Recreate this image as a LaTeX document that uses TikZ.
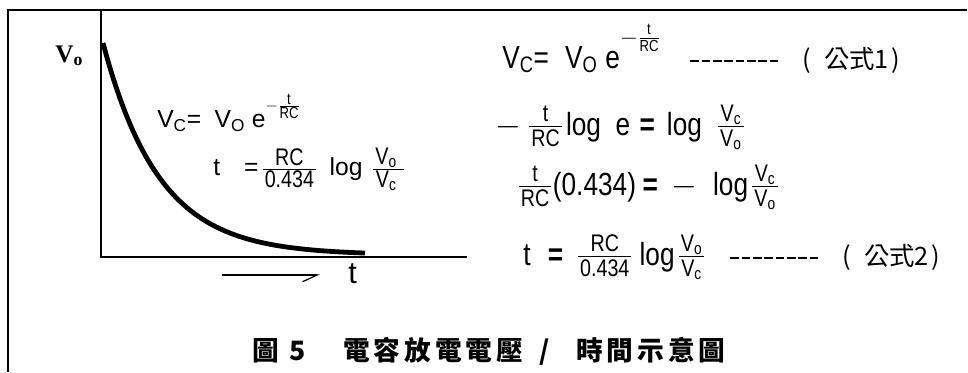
\documentclass[tikz,border=0pt]{standalone}
\usepackage{amsmath}
\usepackage{fontspec}
\setsansfont{Liberation Sans}
\newfontfamily\narrowfont[FakeStretch=0.82]{Liberation Sans}
\newfontfamily\cjkfont[LetterSpace=15]{Noto Sans CJK TC}
\newfontfamily\tagfont{Noto Sans CJK TC}
\newfontfamily\labelfont{Liberation Serif}
\usetikzlibrary{arrows.meta}
\newcommand{\numsize}{\fontsize{18}{19}\selectfont}
\newcommand{\expsize}{\fontsize{12}{13}\selectfont}
\newcommand{\fr}[2]{\frac{\text{\narrowfont\numsize\hspace{1.5pt}#1\hspace{1.5pt}}}{\text{\narrowfont\numsize\hspace{1.5pt}#2\hspace{1.5pt}}}}
\newcommand{\expo}[1]{e\raisebox{#1}{$\scriptstyle-\genfrac{}{}{}{2}{\text{\narrowfont\expsize t}}{\text{\narrowfont\expsize RC}}$}}
\newcommand{\dsh}{\rule[4.3pt]{6.5pt}{2pt}\hspace{2pt}}
\newcommand{\dashrow}{\dsh\dsh\dsh\dsh\dsh\dsh\dsh\dsh}

\begin{document}
\begin{tikzpicture}[x=0.75pt,y=-0.75pt,
  eqn/.style={font=\sffamily\fontsize{18.5}{20}\selectfont,inner sep=0pt,anchor=base west},
  eqr/.style={eqn,font=\narrowfont\fontsize{24}{25}\selectfont},
  tag/.style={eqn,font=\tagfont\fontsize{19}{20}\selectfont},
  axis/.style={line width=1.5pt},
  decay/.style={line width=3.6pt},
  arr/.style={-{Straight Barb[harpoon,swap,length=11pt,width=10pt]},line width=0.9pt}]
  \useasboundingbox (0,0) rectangle (968,372);
  % frame
  \draw[line width=1pt] (7,10) -- (967,10);
  \draw[line width=1.5pt] (8,10) -- (8,372);
  % axes and curve
  \coordinate (O) at (101,257);
  \draw[axis] (101,10) -- (O) -- (467,257);
  \draw[decay] plot[domain=0:262,samples=80] ({103+\x},{255-212*exp(-\x/56)});
  \node[eqn,font=\labelfont\bfseries\fontsize{19}{20}\selectfont] (vo) at (55,62) {V$_\text{o}$};
  \coordinate (arrS) at (222,275);
  \coordinate (arrE) at (320,275);
  \draw[arr] (arrS) -- (arrE);
  \node[eqn,font=\sffamily\fontsize{23}{24}\selectfont] (tlab) at (348,283) {t};
  % formulas on the graph
  \node[eqn] (left1) at (157,127) {V\textsubscript{C}=\hspace{10pt}V\textsubscript{O}\hspace{5pt}\expo{12.5pt}};
  \node[eqn] (left2) at (213,175) {t\hspace{18pt}=\hspace{2pt}$\fr{RC}{0.434}$\hspace{9pt}log\hspace{7pt}$\fr{V\textsubscript{o}\hspace{4pt}}{V\textsubscript{c}\hspace{4pt}}$};
  % derivation
  \node[eqr] (r1) at (502,68) {V\textsubscript{C}=\hspace{12pt}V\textsubscript{O}\hspace{6pt}\expo{18pt}};
  \node[tag] (r1tag) at (690,68) {\dashrow\hspace{16pt}(\hspace{10pt}公式1\hspace{2pt})};
  \node[eqr] (r2) at (495,135) {$-$\hspace{5pt}$\fr{t}{RC}$\hspace{2pt}log\hspace{11pt}e\hspace{7pt}\textbf{=}\hspace{9pt}log\hspace{11pt}$\fr{V\textsubscript{c}}{V\textsubscript{o}}$};
  \node[eqr] (r3) at (517,195) {$\fr{t}{RC}$(0.434)\hspace{5pt}\textbf{=}\hspace{10pt}$-$\hspace{12pt}log\hspace{2pt}$\fr{V\textsubscript{c}}{V\textsubscript{o}}$};
  \node[eqr] (r4) at (523,265) {t\hspace{13pt}\textbf{=}\hspace{10pt}$\fr{RC}{0.434}$\hspace{5pt}log\hspace{2pt}$\fr{V\textsubscript{o}}{V\textsubscript{c}}$};
  \node[tag] (r4tag) at (730,265) {\dashrow\hspace{16pt}(\hspace{10pt}公式2\hspace{2pt})};
  % caption
  \node[inner sep=0pt,anchor=west,font=\cjkfont\bfseries\fontsize{20}{22}\selectfont] (caption) at (252,351)
    {圖\hspace{8pt}5\hspace{28pt}電容放電電壓\hspace{12pt}/\hspace{20pt}時間示意圖};
\end{tikzpicture}
\end{document}
